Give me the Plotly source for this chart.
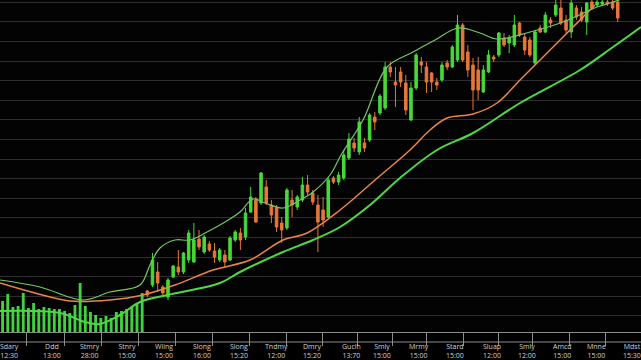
import plotly.graph_objects as go

# ---------------- data ----------------
vol_x = list(range(0, 28))
vol = [31, 38, 25, 26, 39, 24, 29, 23, 25, 24, 23, 23, 21, 19, 27, 49, 26, 20,
       17, 14, 16, 14, 20, 21, 23, 25, 29, 39]

cdl_x = list(range(28, 120))
cdl_open = [41, 47, 60, 45, 35, 55, 65, 60, 72, 70, 93, 80, 88, 81, 72, 77, 72, 92, 99, 95,
            120, 132, 129, 145, 127, 124, 109, 104, 132, 125, 132, 147, 139, 127, 122, 115, 154, 150, 154, 174,
            189, 180, 189, 192, 215, 219, 224, 265, 250, 260, 249, 212, 244, 270, 265, 259, 250, 252, 269, 265,
            272, 307, 280, 267, 262, 240, 260, 275, 277, 294, 289, 287, 309, 295, 292, 269, 304, 300, 312, 317,
            324, 312, 300, 324, 320, 310, 330, 327, 328, 330, 330, 330]
cdl_high = [42, 79, 70, 47, 54, 67, 82, 80, 102, 109, 102, 97, 91, 89, 84, 82, 96, 102, 104, 124,
            145, 135, 160, 152, 132, 127, 115, 144, 142, 137, 155, 157, 142, 137, 135, 155, 156, 160, 182, 199,
            194, 215, 194, 219, 220, 238, 270, 270, 265, 265, 257, 250, 279, 275, 270, 260, 254, 270, 272, 287,
            317, 309, 287, 274, 275, 267, 282, 277, 300, 299, 297, 317, 310, 299, 295, 302, 307, 320, 315, 332,
            332, 317, 334, 327, 325, 330, 334, 334, 334, 334, 334, 334]
cdl_low = [35, 45, 40, 37, 32, 54, 57, 58, 69, 69, 82, 78, 80, 69, 70, 65, 71, 90, 82, 92,
           119, 109, 127, 127, 109, 100, 89, 102, 115, 122, 130, 137, 127, 80, 105, 114, 148, 147, 152, 172,
           180, 177, 180, 190, 202, 217, 222, 255, 225, 245, 217, 211, 242, 259, 239, 240, 242, 250, 262, 264,
           270, 270, 255, 222, 232, 239, 259, 270, 275, 285, 279, 285, 295, 277, 275, 267, 299, 299, 304, 315,
           307, 299, 294, 312, 310, 297, 322, 325, 326, 326, 322, 310]
cdl_close = [37, 72, 49, 39, 52, 66, 60, 79, 99, 92, 85, 95, 82, 75, 82, 70, 94, 100, 92, 119,
             135, 110, 159, 129, 117, 105, 102, 142, 127, 135, 147, 140, 130, 110, 112, 152, 150, 157, 177, 193,
             184, 210, 184, 217, 210, 236, 265, 260, 247, 250, 222, 244, 277, 267, 250, 250, 247, 267, 265, 285,
             307, 272, 262, 242, 242, 262, 277, 273, 299, 287, 294, 307, 297, 282, 277, 300, 300, 317, 309, 327,
             309, 302, 329, 315, 312, 329, 324, 330, 330, 328, 324, 314]

fast_x = [-0.5, 7.24, 15.56, 20.78, 26.58, 28.52, 30.45, 33.36, 36.26, 39.55, 43.03, 45.93, 48.45,
          50.77, 54.25, 57.54, 60.05, 63.34, 65.47, 69.73, 74.37, 79.40, 83.66, 88.11, 92.36, 95.65,
          102.04, 108.42, 115.0, 118.09, 123.5]
fast_y = [52, 45, 32, 40, 47, 67, 84, 92, 92, 100, 110, 120, 133, 129, 124, 132, 140, 157, 177, 212,
          265, 280, 292, 304, 299, 293, 300, 310, 325, 330, 340]

mid_x = [-0.5, 6.27, 13.04, 20.78, 27.17, 33.36, 40.71, 47.87, 54.25, 58.89, 65.28, 72.05, 78.82,
         82.69, 85.98, 91.01, 95.65, 100.10, 103.39, 108.42, 111.71, 114.6]
mid_y = [49, 39, 31, 32, 37, 47, 62, 72, 92, 99, 122, 152, 182, 202, 214, 218, 229, 252, 269, 295,
         312, 327]

slow_x = [-0.5, 11.11, 15.94, 18.85, 22.72, 26.58, 31.81, 42.06, 45.93, 54.25, 60.05, 65.28, 71.08,
          76.88, 84.04, 91.01, 100.10, 111.71, 118.09, 123.5]
slow_y = [21, 19, 10, 8, 17, 30, 37, 49, 60, 80, 92, 105, 127, 154, 182, 199, 229, 262, 285, 305]

tick_names = ["Sdary", "Ddd", "Stmry", "Stnry", "Wiing", "Slong", "Slong", "Tndmy", "Dmry",
              "Gucih", "Smly", "Mrmy", "Stard", "Sluap", "Smly", "Amcd", "Mnne", "Mdst"]
tick_times = ["12:30", "13:00", "28:00", "15:00", "15:00", "16:00", "15:20", "12:00", "15:20",
              "13:70", "15:00", "15:00", "15:00", "12:00", "12:00", "15:00", "15:00", "15:30"]

# ---------------- layout helpers ----------------
label_pos = [1.43, 9.56, 16.91, 24.07, 31.23, 38.58, 45.74, 52.9, 59.86, 67.4, 73.4, 80.56,
             87.52, 94.68, 101.45, 108.22, 114.8, 121.77]
tickmark_pos = [4.53, 11.88, 19.23, 26.2, 33.36, 40.51, 47.67, 54.83, 61.79, 68.57, 75.34,
                82.1, 89.07, 95.84, 102.6, 109.58, 116.54]

GREEN = "#46d83a"
ORANGE = "#e6773a"
AXIS = "#8c8c8c"
PLOT_H = 332.0

fig = go.Figure()
fig.add_trace(go.Bar(x=vol_x, y=vol, marker=dict(color="#3fd43f", line=dict(width=0)),
                     width=0.55, hoverinfo="skip"))
fig.add_trace(go.Candlestick(
    x=cdl_x, open=cdl_open, high=cdl_high, low=cdl_low, close=cdl_close,
    increasing=dict(line=dict(color=GREEN, width=1), fillcolor=GREEN),
    decreasing=dict(line=dict(color=ORANGE, width=1), fillcolor=ORANGE),
    whiskerwidth=0))
fig.add_trace(go.Scatter(x=slow_x, y=slow_y, mode="lines",
                         line=dict(color="#4fd845", width=2, shape="spline", smoothing=1)))
fig.add_trace(go.Scatter(x=mid_x, y=mid_y, mode="lines",
                         line=dict(color="#e8864a", width=1.5, shape="spline", smoothing=1)))
fig.add_trace(go.Scatter(x=fast_x, y=fast_y, mode="lines",
                         line=dict(color="#72c964", width=1.2, shape="spline", smoothing=1)))

annotations = []
for p, n, t in zip(label_pos, tick_names, tick_times):
    annotations.append(dict(x=p, y=-9.5 / PLOT_H, xref="x", yref="paper", yanchor="top",
                            text=f"{n}<br>{t}", showarrow=False, borderpad=0,
                            font=dict(family="Open Sans", size=7, color="#d0d0d0")))

fig.update_layout(
    width=641, height=360,
    margin=dict(l=0, r=0, t=0, b=28),
    paper_bgcolor="#000000", plot_bgcolor="#030303",
    showlegend=False,
    annotations=annotations,
    shapes=[dict(type="line", xref="paper", yref="paper", x0=0, x1=1,
                 y0=-10 / PLOT_H, y1=-10 / PLOT_H, line=dict(color=AXIS, width=1))],
    xaxis=dict(range=[-0.5, 123.5], showgrid=False, zeroline=False,
               showline=True, linecolor=AXIS, linewidth=1,
               ticks="outside", ticklen=13, tickcolor=AXIS, tickwidth=1,
               tickvals=tickmark_pos, showticklabels=False,
               rangeslider=dict(visible=False)),
    yaxis=dict(range=[0, PLOT_H], showgrid=True, gridcolor="#2e2e2e", gridwidth=1,
               tick0=16.1, dtick=19.6, showticklabels=False, zeroline=False),
)

fig.write_html("out.html")
